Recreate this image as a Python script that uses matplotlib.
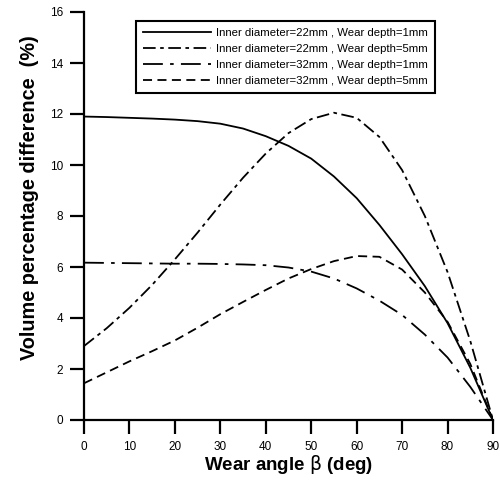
import numpy as np
import matplotlib
matplotlib.use("Agg")
import matplotlib.pyplot as plt

plt.rcParams['font.family'] = ['Liberation Sans', 'DejaVu Sans']
plt.rcParams['mathtext.fontset'] = 'dejavusans'

# wear angle (deg)
angle = [0, 5, 10, 15, 20, 25, 30, 35, 40, 45, 50, 55, 60, 65, 70, 75, 80, 85, 90]

# volume percentage difference (%)
d22_w1 = [11.9, 11.88, 11.85, 11.82, 11.78, 11.72, 11.62, 11.43, 11.13, 10.75, 10.25, 9.55, 8.7, 7.65, 6.5, 5.25, 3.8, 2.05, 0.0]
d22_w5 = [2.9, 3.6, 4.4, 5.3, 6.3, 7.35, 8.45, 9.5, 10.45, 11.25, 11.8, 12.05, 11.85, 11.1, 9.8, 8.0, 5.8, 3.1, 0.0]
d32_w1 = [6.17, 6.16, 6.15, 6.14, 6.13, 6.13, 6.12, 6.1, 6.07, 5.98, 5.82, 5.55, 5.16, 4.68, 4.12, 3.35, 2.45, 1.3, 0.0]
d32_w5 = [1.44, 1.87, 2.3, 2.7, 3.12, 3.62, 4.15, 4.63, 5.1, 5.55, 5.92, 6.23, 6.43, 6.4, 5.9, 5.0, 3.85, 2.2, 0.0]

labels = ["Inner diameter=22mm , Wear depth=1mm",
          "Inner diameter=22mm , Wear depth=5mm",
          "Inner diameter=32mm , Wear depth=1mm",
          "Inner diameter=32mm , Wear depth=5mm"]

fig = plt.figure(figsize=(5, 4.8), dpi=100)
ax = fig.add_axes([0.168, 0.125, 0.818, 0.85])

lw = 1.3
ax.plot(angle, d22_w1, color='black', lw=lw, linestyle='-', label=labels[0])
ax.plot(angle, d22_w5, color='black', lw=lw, linestyle=(0, (7, 2.5, 2, 2.5)), label=labels[1])
ax.plot(angle, d32_w1, color='black', lw=lw, linestyle=(0, (11, 4, 2, 4)), label=labels[2])
ax.plot(angle, d32_w5, color='black', lw=lw, linestyle=(0, (5, 3)), label=labels[3])

ax.set_xlim(0, 90)
ax.set_ylim(0, 16)
ax.set_xticks(range(0, 91, 10))
ax.set_yticks(range(0, 17, 2))
ax.spines['top'].set_visible(False)
ax.spines['right'].set_visible(False)
for s in ('left', 'bottom'):
    ax.spines[s].set_linewidth(1.6)
ax.tick_params(direction='out', length=10, width=1.6, labelsize=8.5, pad=5)

ax.set_xlabel(r"Wear angle $\mathrm{\beta}$ (deg)", fontsize=13.5, fontweight='bold', labelpad=0)
ax.set_ylabel("Volume percentage difference  (%)", fontsize=14.3, fontweight='bold')
ax.yaxis.set_label_coords(-0.11, 0.545)

# legend box spans roughly x 136..433 px, y 19..92 px
leg = ax.legend(loc='upper left', bbox_to_anchor=(0.127, 0.978), borderaxespad=0,
                fontsize=8.2, frameon=True, fancybox=False, handlelength=5.95,
                borderpad=0.62, labelspacing=0.52, handletextpad=0.5)
leg.get_frame().set_edgecolor('black')
leg.get_frame().set_linewidth(1.5)
leg.get_frame().set_alpha(1)

fig.savefig("out.png", dpi=100)
